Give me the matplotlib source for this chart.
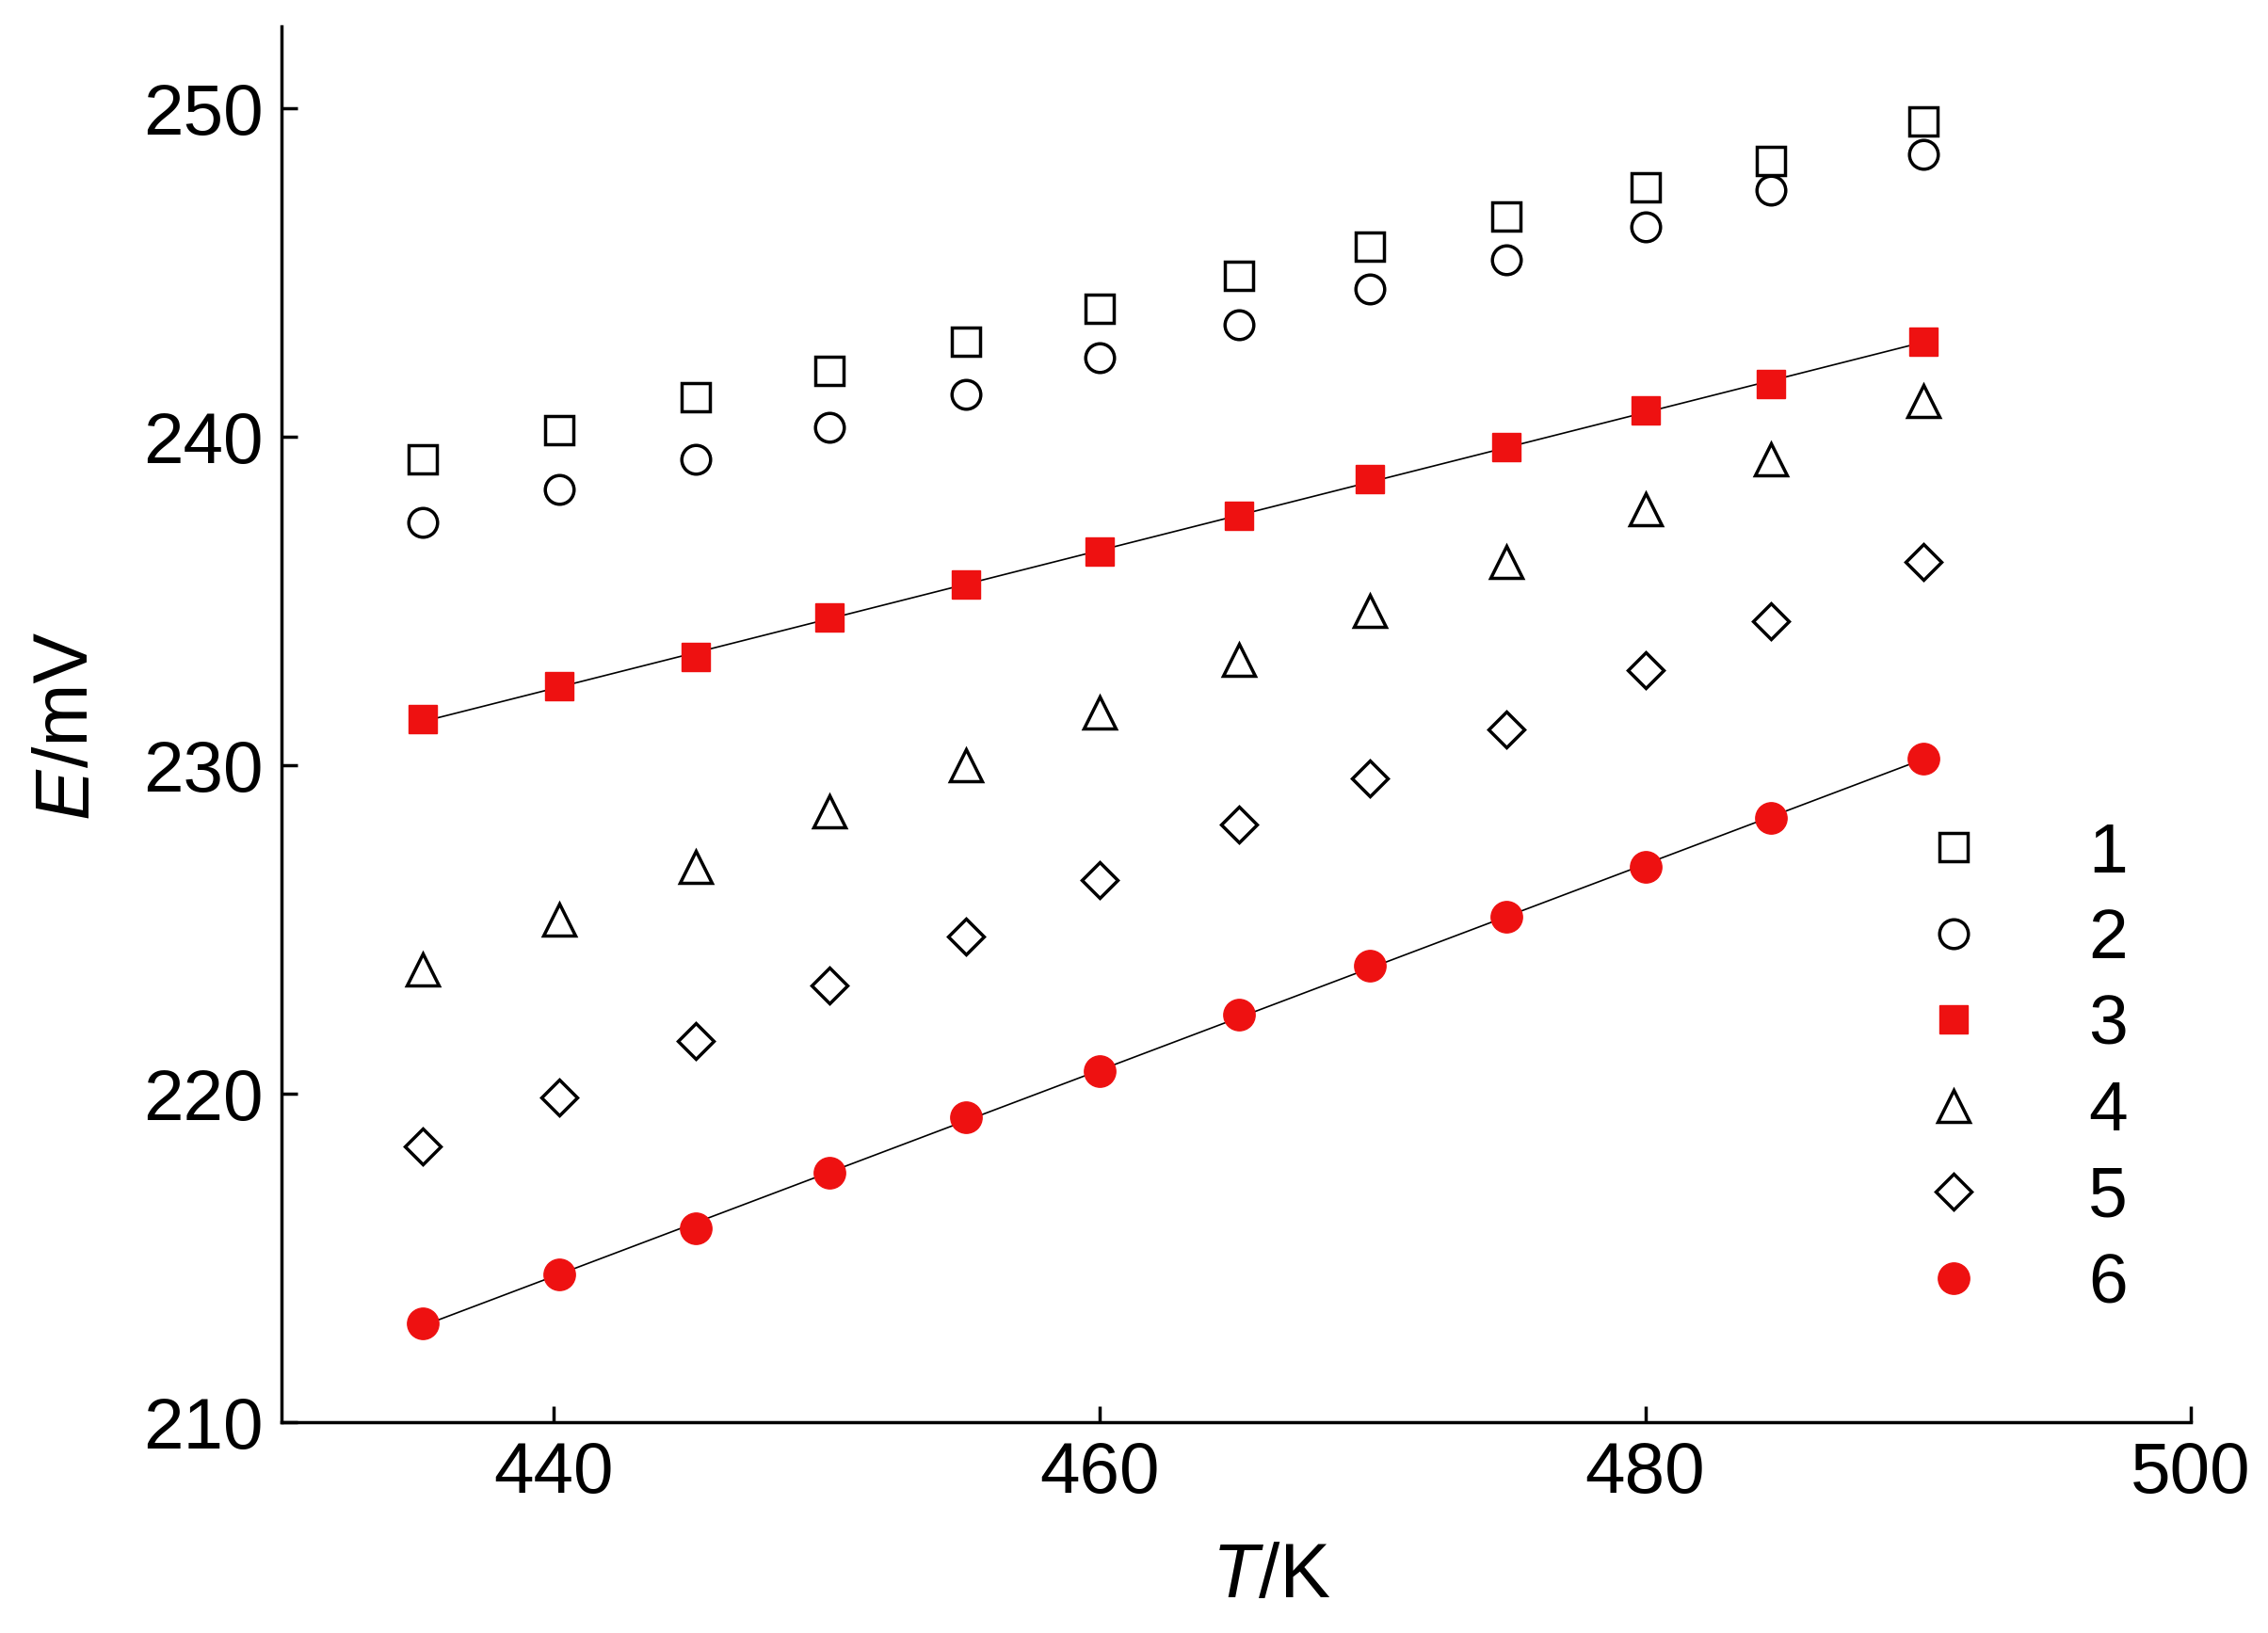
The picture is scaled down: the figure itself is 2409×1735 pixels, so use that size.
import matplotlib
matplotlib.use("Agg")
import matplotlib.pyplot as plt
import numpy as np

T = [435.2,440.2,445.2,450.1,455.1,460,465.1,469.9,474.9,480,484.6,490.2]
s1 = [239.3,240.2,241.2,242.0,242.9,243.9,244.9,245.8,246.7,247.6,248.4,249.6]
s2 = [237.4,238.4,239.3,240.3,241.3,242.4,243.4,244.5,245.4,246.4,247.5,248.6]
s3 = [231.4,232.4,233.3,234.5,235.5,236.5,237.6,238.7,239.7,240.8,241.6,242.9]
s4 = [223.8,225.3,226.9,228.6,230.0,231.6,233.2,234.7,236.2,237.8,239.3,241.1]
s5 = [218.4,219.9,221.6,223.3,224.8,226.5,228.2,229.6,231.1,232.9,234.4,236.2]
s6 = [213.0,214.5,215.9,217.6,219.3,220.7,222.4,223.9,225.4,226.9,228.4,230.2]
labels = ["1","2","3","4","5","6"]

plt.rcParams['font.family'] = ['Liberation Sans', 'DejaVu Sans']
fig = plt.figure(figsize=(24.09,17.35), dpi=100)
ax = fig.add_axes([0.124,0.129,0.842,0.855])
T_ = np.array(T)
for s in (s3, s6):
    c = np.polyfit(T_, s, 1)
    ax.plot(T_, np.polyval(c, T_), color='black', lw=1.2)
ms = 22
ax.plot(T, s1, 's', mfc='white', mec='black', mew=2.5, ms=ms, ls='none', label=labels[0])
ax.plot(T, s2, 'o', mfc='white', mec='black', mew=2.5, ms=ms, ls='none', label=labels[1])
ax.plot(T, s3, 's', mfc='#ee1111', mec='#ee1111', ms=ms, ls='none', label=labels[2])
ax.plot(T, s4, '^', mfc='white', mec='black', mew=2.5, ms=ms+3, ls='none', label=labels[3])
ax.plot(T, s5, 'D', mfc='white', mec='black', mew=2.5, ms=ms-3, ls='none', label=labels[4])
ax.plot(T, s6, 'o', mfc='#ee1111', mec='#ee1111', ms=ms+2, ls='none', label=labels[5])
ax.set_xlim(430,500); ax.set_ylim(210,252.5)
ax.set_xticks([440,460,480,500]); ax.set_yticks([210,220,230,240,250])
ax.spines['top'].set_visible(False); ax.spines['right'].set_visible(False)
for sp in ax.spines.values(): sp.set_linewidth(2.5)
ax.tick_params(direction='in', length=12, width=2.5, labelsize=55, pad=14)
fig.text(0.555, 0.022, 'T', fontsize=58, style='italic', ha='right')
fig.text(0.555, 0.022, '/K', fontsize=58, ha='left')
fig.text(0.014, 0.53, 'E', fontsize=58, style='italic', rotation=90, va='top')
fig.text(0.014, 0.53, '/mV', fontsize=58, rotation=90, va='bottom')
ax.legend(loc='lower right', bbox_to_anchor=(1.0, 0.03), frameon=False, fontsize=54,
          handletextpad=0.9, labelspacing=0.3, markerfirst=True)
fig.savefig('out.png', dpi=100)
